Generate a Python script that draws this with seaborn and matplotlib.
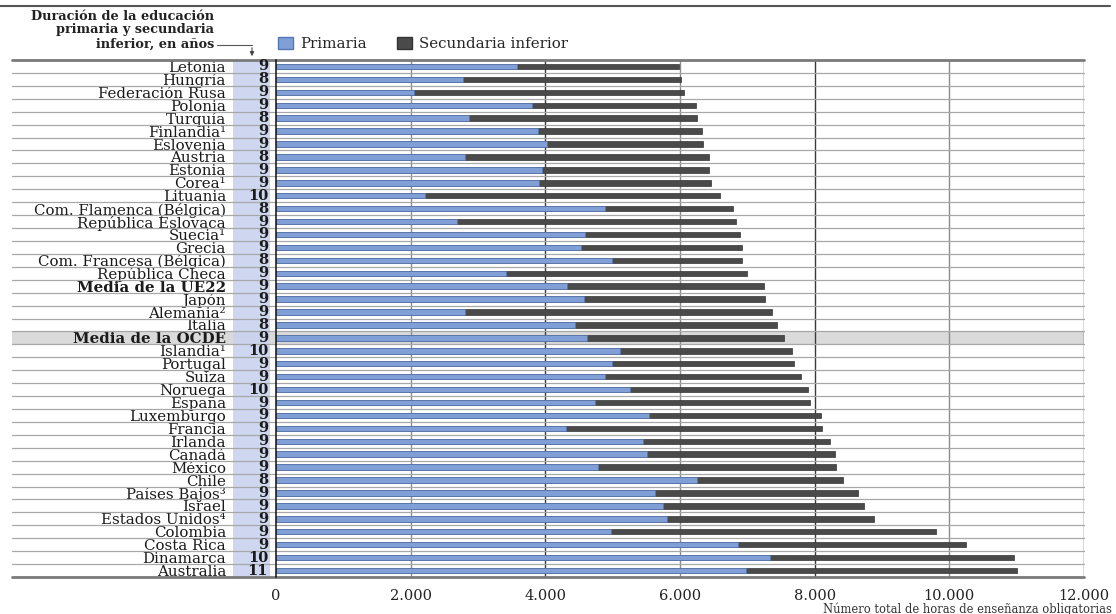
import matplotlib
matplotlib.use("Agg")
import matplotlib.pyplot as plt
import matplotlib.transforms as mtransforms
from matplotlib.patches import Patch, Rectangle
from matplotlib.lines import Line2D
import pandas as pd
import seaborn as sns

# datos (horas acumuladas)
countries = ["Letonia", "Hungría", "Federación Rusa", "Polonia", "Turquía",
             "Finlandia¹", "Eslovenia", "Austria", "Estonia", "Corea¹",
             "Lituania", "Com. Flamenca (Bélgica)", "República Eslovaca", "Suecia¹",
             "Grecia", "Com. Francesa (Bélgica)", "República Checa", "Media de la UE22",
             "Japón", "Alemania²", "Italia", "Media de la OCDE", "Islandia¹",
             "Portugal", "Suiza", "Noruega", "España", "Luxemburgo", "Francia",
             "Irlanda", "Canadá", "México", "Chile", "Países Bajos³", "Israel",
             "Estados Unidos⁴", "Colombia", "Costa Rica", "Dinamarca", "Australia"]
years = [9, 8, 9, 9, 8, 9, 9, 8, 9, 9,
         10, 8, 9, 9, 9, 8, 9, 9, 9, 9,
         8, 9, 10, 9, 9, 10, 9, 9, 9, 9,
         9, 9, 8, 9, 9, 9, 9, 9, 10, 11]
primaria = [3575, 2773, 2050, 3797, 2866, 3891, 4020, 2807, 3951, 3911,
            2213, 4891, 2684, 4585, 4535, 4995, 3413, 4320, 4570, 2808,
            4445, 4622, 5110, 4996, 4888, 5263, 4741, 5543, 4312, 5451,
            5506, 4785, 6258, 5626, 5742, 5807, 4978, 6865, 7341, 6981]
total = [5985, 6015, 6065, 6243, 6257, 6327, 6342, 6426, 6436, 6456,
         6594, 6788, 6832, 6896, 6916, 6926, 6991, 7253, 7264, 7373,
         7435, 7548, 7656, 7690, 7793, 7907, 7924, 8089, 8111, 8225,
         8296, 8316, 8424, 8645, 8727, 8883, 9809, 10245, 10967, 11008]
bold_rows = ["Media de la UE22", "Media de la OCDE"]

df = pd.DataFrame({"pais": countries, "primaria": primaria, "total": total})

sns.set_style("white")
plt.rcParams["font.family"] = ["DejaVu Serif"]

W, H = 1116, 614
fig = plt.figure(figsize=(W / 100, H / 100), dpi=100)
ax = fig.add_axes([276 / W, 1 - 577 / H, 808 / W, 517 / H])

blue, blue_edge, dark = "#7f9fd6", "#5677b5", "#4a4a4a"
sns.barplot(data=df, y="pais", x="total", orient="h", color=dark, saturation=1,
            width=0.42, edgecolor="#333333", linewidth=0.5, ax=ax, zorder=3)
sns.barplot(data=df, y="pais", x="primaria", orient="h", color=blue, saturation=1,
            width=0.42, edgecolor=blue_edge, linewidth=0.5, ax=ax, zorder=4)

n = len(countries)
ax.set_xlim(0, 12000)
ax.set_ylim(n - 0.5, -0.5)
ax.set_xlabel("")
ax.set_ylabel("")
ax.set_xticks(range(0, 12001, 2000))
ax.set_xticklabels(["0", "2.000", "4.000", "6.000", "8.000", "10.000", "12.000"], fontsize=10.5)
ax.tick_params(axis="x", length=4, width=0.8, pad=5, colors="#222222")
ax.set_yticks(range(n))
ax.set_yticklabels(countries, fontsize=10.8, color="#1a1a1a")
ax.tick_params(axis="y", length=0, pad=36)
for lab in ax.get_yticklabels():
    if lab.get_text() in bold_rows:
        lab.set_fontweight("bold")
for s in ["top", "bottom", "right"]:
    ax.spines[s].set_visible(False)
ax.spines["left"].set_color("#111111")
ax.spines["left"].set_linewidth(1.1)
ax.spines["left"].set_zorder(5)

# lineas de cuadricula
for gx in range(2000, 12001, 2000):
    c = "#3a3a3a" if gx in (4000, 8000, 12000) else "#8c8c8c"
    ax.axvline(gx, color=c, lw=1.0, zorder=1)

tr = mtransforms.blended_transform_factory(ax.transAxes, ax.transData)
x_left = -264 / 808

# separadores de filas
for i in range(n + 1):
    y = i - 0.5
    lw, c = (2.0, "#7a7a7a") if i in (0, n) else (0.9, "#a8a8a8")
    ax.plot([x_left, 1], [y, y], transform=tr, color=c, lw=lw, clip_on=False, zorder=2)

# fila OCDE resaltada
i_ocde = countries.index("Media de la OCDE")
ax.add_patch(Rectangle((x_left, i_ocde - 0.5), 1 - x_left, 1, transform=tr,
                       facecolor="#dadada", edgecolor="none", clip_on=False, zorder=0))

# columna de años
ax.add_patch(Rectangle((-43 / 808, -0.5), 37 / 808, n, transform=tr,
                       facecolor="#c9d3ee", edgecolor="none", alpha=0.9,
                       clip_on=False, zorder=1.5))
for i, yv in enumerate(years):
    ax.text(-8 / 808, i, str(yv), transform=tr, ha="right", va="center",
            fontsize=10.5, fontweight="bold", color="#1a1a1a", zorder=6)

# leyenda
fig.legend(handles=[Patch(facecolor=blue, edgecolor=blue_edge), Patch(facecolor=dark, edgecolor="#333333")],
           labels=["Primaria", "Secundaria inferior"], loc="center left",
           bbox_to_anchor=(264 / W, 1 - 44 / H), ncol=2, frameon=False, fontsize=10.8,
           handlelength=1.0, handleheight=0.9, handletextpad=0.5, columnspacing=2.0)

# encabezado de la columna
fig.text(214 / W, 1 - 30 / H, "Duración de la educación\nprimaria y secundaria\ninferior, en años",
         ha="right", va="center", multialignment="right", fontsize=9.3,
         fontweight="bold", linespacing=1.1, color="#222222")
fig.add_artist(Line2D([217 / W, 252 / W], [1 - 45 / H, 1 - 45 / H], transform=fig.transFigure,
                      color="#555555", lw=0.8))
ax.annotate("", xy=(252 / W, 1 - 59 / H), xytext=(252 / W, 1 - 45 / H), xycoords="figure fraction",
            arrowprops=dict(arrowstyle="-|>", color="#444444", lw=0.8, mutation_scale=6))

# linea del titulo (cortado)
fig.add_artist(Line2D([0, 1110 / W], [1 - 6 / H, 1 - 6 / H], transform=fig.transFigure,
                      color="#555555", lw=1.5))

fig.text(1112 / W, 1 - 609 / H, "Número total de horas de enseñanza obligatorias",
         ha="right", va="center", fontsize=8.3, color="#333333")

fig.savefig("out.png", dpi=100)
